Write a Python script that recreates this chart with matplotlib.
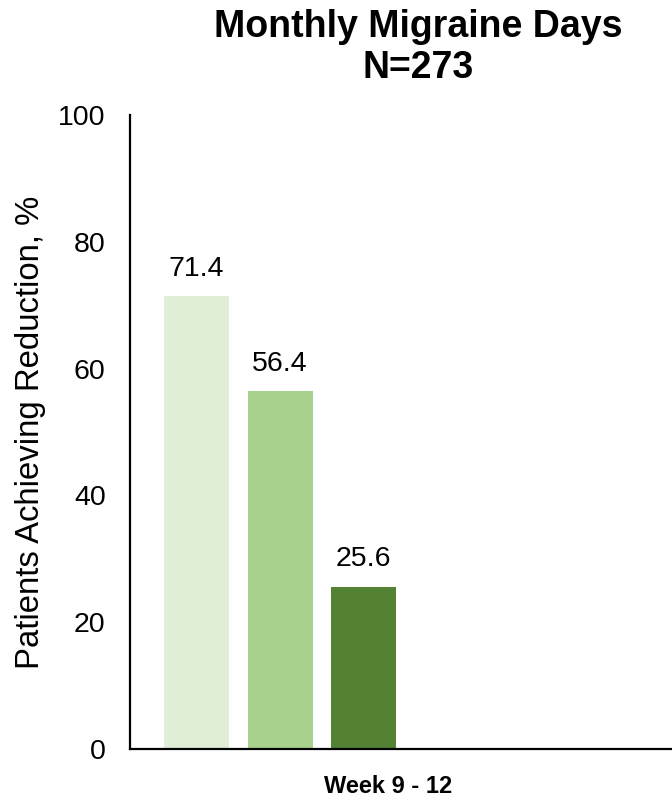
import matplotlib.pyplot as plt

# Patients achieving reduction in monthly migraine days, weeks 9-12
categories = ["Reduction A", "Reduction B", "Reduction C"]
values = [71.4, 56.4, 25.6]
bar_colors = ["#e0eed8", "#a9d18e", "#548235"]
y_ticks = [0, 20, 40, 60, 80, 100]
group_label = "Week 9 - 12"

plt.rcParams['font.family'] = ['Liberation Sans', 'DejaVu Sans']

fig = plt.figure(figsize=(6.72, 7.99), dpi=100)
ax = fig.add_axes([0.1935, 0.0626, 0.81, 0.7935])

x = range(len(values))
ax.bar(x, values, width=0.78, color=bar_colors, edgecolor='none')
for xi, v in zip(x, values):
    ax.text(xi, v + 3.2, f"{v:.1f}", ha='center', va='baseline', fontsize=20.5)

ax.set_ylim(0, 100)
ax.set_xlim(-0.80, 5.73)
ax.set_yticks(y_ticks)
ax.tick_params(axis='y', length=0, labelsize=20.5, pad=17.5)
ax.set_xticks([2.30])
ax.set_xticklabels([group_label], fontsize=17, fontweight='bold')
ax.tick_params(axis='x', length=0, pad=19)

ax.set_ylabel("Patients Achieving Reduction, %", fontsize=23.7, labelpad=9)

for side in ['top', 'right']:
    ax.spines[side].set_visible(False)
for side in ['left', 'bottom']:
    ax.spines[side].set_linewidth(1.6)

fig.text(0.622, 1 - 37 / 799, "Monthly Migraine Days", ha='center', va='baseline',
         fontsize=27, fontweight='bold')
fig.text(0.622, 1 - 78 / 799, "N=273", ha='center', va='baseline',
         fontsize=27, fontweight='bold')

fig.savefig('out.png', dpi=100)
